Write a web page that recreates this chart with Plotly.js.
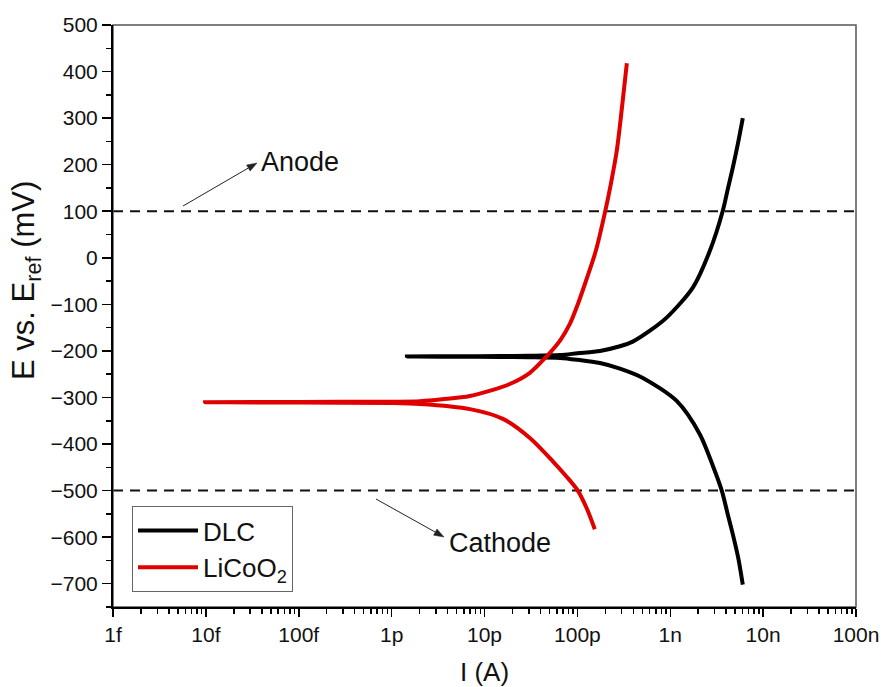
<!DOCTYPE html>
<html>
<head>
<meta charset="utf-8">
<script src="https://cdn.plot.ly/plotly-3.0.1.min.js"></script>
<style>
  html, body { margin: 0; padding: 0; background: #ffffff; }
  #chart { width: 881px; height: 687px; }
</style>
</head>
<body>
<div id="chart"></div>
<script>
// ---- Data ----
// DLC: cathodic branch (from -700 mV up), dip to E_corr, then anodic branch
const dlcCurrent = [6.04e-9, 5.4e-9, 4.72e-9, 4.15e-9, 3.6e-9, 2.88e-9, 2.08e-9, 1.18e-9, 5.07e-10, 2.87e-10, 1.75e-10, 1.0e-10, 6.5e-11, 3.0e-11, 1.47e-11, 5.0e-12, 1.46e-12,
                    5.0e-12, 1.5e-11, 3.0e-11, 6.5e-11, 1.0e-10, 1.75e-10, 2.87e-10, 3.95e-10, 6.2e-10, 9.2e-10, 1.75e-9, 2.67e-9, 3.68e-9, 4.17e-9, 4.72e-9, 5.35e-9, 6.04e-9];
const dlcPotential = [-702, -645, -594, -550, -501, -447, -379, -308, -258, -238, -226, -219, -215, -213.5, -213, -212.5, -212,
                      -211.5, -211, -210.5, -209, -205, -200, -190, -180, -155, -128, -64, 15, 101, 148, 194, 245, 300];

// LiCoO2: cathodic branch (from -583 mV up), dip to E_corr, then anodic branch
const licoCurrent = [1.54e-10, 1.26e-10, 1.01e-10, 7.5e-11, 5.44e-11, 3.08e-11, 1.58e-11, 6.97e-12, 2.02e-12, 1.0e-12, 1.0e-13, 9.8e-15,
                     1.0e-13, 1.0e-12, 2.02e-12, 3.5e-12, 6.97e-12, 1.87e-11, 3.08e-11, 4.7e-11, 5.44e-11, 6.64e-11, 8.3e-11, 1.01e-10, 1.26e-10, 1.58e-10, 1.98e-10, 2.3e-10, 2.66e-10, 3.01e-10, 3.41e-10];
const licoPotential = [-583, -538, -500, -468, -437, -387, -346, -325, -314, -312, -311, -310,
                       -309.5, -309, -308, -304, -297, -271, -247, -211, -197, -175, -142, -100, -45, 15, 97, 160, 231, 320, 418];

const seriesNames = ['DLC', 'LiCoO<sub>2</sub>'];
const seriesColors = ['#000000', '#e00000'];

// Reference potential levels (dashed lines) and labels
const refLevels = [100, -500];
const refLabels = ['Anode', 'Cathode'];

// Axis ticks
const xTickVals = [1e-15, 1e-14, 1e-13, 1e-12, 1e-11, 1e-10, 1e-9, 1e-8, 1e-7];
const xTickText = ['1f', '10f', '100f', '1p', '10p', '100p', '1n', '10n', '100n'];
const yTickVals = [-700, -600, -500, -400, -300, -200, -100, 0, 100, 200, 300, 400, 500];

// minor ticks on the log axis: 2..9 of each decade
const xMinorVals = [];
for (let e = -15; e < -7; e++) {
  for (let m = 2; m <= 9; m++) xMinorVals.push(m * Math.pow(10, e));
}

const FONT = 'Liberation Sans, Arial, sans-serif';

// plot-area geometry (pixels) used only to place annotation arrows
const M = { l: 113, r: 25, t: 25, b: 80 };
const PW = 881 - M.l - M.r, PH = 687 - M.t - M.b;
const px2paper = (px, py) => [(px - M.l) / PW, (687 - M.b - py) / PH];

function arrowShapes(tail, head) {
  const dx = head[0] - tail[0], dy = head[1] - tail[1];
  const L = Math.hypot(dx, dy), ux = dx / L, uy = dy / L;
  const nx = -uy, ny = ux, hl = 10, hw = 3.5;
  const bx = head[0] - hl * ux, by = head[1] - hl * uy;
  const t = px2paper(tail[0], tail[1]);
  const b = px2paper(bx, by);
  const h = px2paper(head[0], head[1]);
  const p1 = px2paper(bx + hw * nx, by + hw * ny);
  const p2 = px2paper(bx - hw * nx, by - hw * ny);
  return [
    { type: 'line', xref: 'paper', yref: 'paper', x0: t[0], y0: t[1], x1: b[0], y1: b[1],
      line: { color: '#222', width: 1 } },
    { type: 'path', xref: 'paper', yref: 'paper',
      path: `M ${h[0]} ${h[1]} L ${p1[0]} ${p1[1]} L ${p2[0]} ${p2[1]} Z`,
      fillcolor: '#222', line: { color: '#222', width: 0.5 } }
  ];
}

const traces = [
  {
    x: dlcCurrent, y: dlcPotential, type: 'scatter', mode: 'lines',
    name: seriesNames[0],
    line: { color: seriesColors[0], width: 4, shape: 'spline', smoothing: 0.8 }
  },
  {
    x: licoCurrent, y: licoPotential, type: 'scatter', mode: 'lines',
    name: seriesNames[1],
    line: { color: seriesColors[1], width: 4, shape: 'spline', smoothing: 0.8 }
  }
];

const shapes = refLevels.map(v => ({
  type: 'line', xref: 'paper', x0: 0, x1: 1, yref: 'y', y0: v, y1: v,
  line: { color: '#111111', width: 2, dash: '10px,7px' }, layer: 'below'
}));
// frame (top / right)
shapes.push({
  type: 'rect', xref: 'paper', yref: 'paper', x0: 0, x1: 1, y0: 0, y1: 1,
  line: { color: '#555555', width: 1.5 }, layer: 'below'
});
// annotation arrows
shapes.push(...arrowShapes([183, 206], [257, 163]));
shapes.push(...arrowShapes([376, 499], [444, 537]));

const anodePos = px2paper(259, 162);
const cathodePos = px2paper(447, 543);
const yTitlePos = px2paper(26, 281);
const legendPos = px2paper(132, 506);

const annotations = [
  { xref: 'paper', yref: 'paper', x: anodePos[0], y: anodePos[1], xanchor: 'left', yanchor: 'middle',
    text: refLabels[0], showarrow: false, font: { family: FONT, size: 27, color: '#111' } },
  { xref: 'paper', yref: 'paper', x: cathodePos[0], y: cathodePos[1], xanchor: 'left', yanchor: 'middle',
    text: refLabels[1], showarrow: false, font: { family: FONT, size: 27, color: '#111' } },
  { xref: 'paper', yref: 'paper', x: yTitlePos[0], y: yTitlePos[1], xanchor: 'center', yanchor: 'middle',
    textangle: -90, text: 'E vs. E<sub>ref</sub> (mV)', showarrow: false,
    font: { family: FONT, size: 31, color: '#111' } }
];

const layout = {
  width: 881, height: 687,
  margin: M,
  paper_bgcolor: '#ffffff', plot_bgcolor: '#ffffff',
  font: { family: FONT, color: '#111111', size: 21 },
  showlegend: true,
  legend: {
    x: legendPos[0], y: legendPos[1], xanchor: 'left', yanchor: 'top',
    bgcolor: '#ffffff', bordercolor: '#666666', borderwidth: 1,
    font: { family: FONT, size: 26, color: '#111' },
    itemwidth: 60, tracegroupgap: 0
  },
  xaxis: {
    type: 'log', range: [-15, -7],
    tickmode: 'array', tickvals: xTickVals, ticktext: xTickText,
    ticks: 'outside', ticklen: 8, tickwidth: 1.5, tickcolor: '#000',
    showline: true, linecolor: '#000', linewidth: 2,
    showgrid: false, zeroline: false,
    tickfont: { family: FONT, size: 21, color: '#111' },
    minor: { tickmode: 'array', tickvals: xMinorVals, ticks: 'outside', ticklen: 5, tickwidth: 1.5, tickcolor: '#000', showgrid: false },
    title: { text: 'I (A)', font: { family: FONT, size: 26, color: '#111' }, standoff: 19 }
  },
  yaxis: {
    range: [-750, 500],
    tickmode: 'array', tickvals: yTickVals,
    ticks: 'outside', ticklen: 9, tickwidth: 1.5, tickcolor: '#000',
    showline: true, linecolor: '#000', linewidth: 2,
    showgrid: false, zeroline: false,
    tickfont: { family: FONT, size: 21, color: '#111' },
    minor: { dtick: 50, ticks: 'outside', ticklen: 5, tickwidth: 1.5, tickcolor: '#000', showgrid: false }
  },
  shapes: shapes,
  annotations: annotations
};

Plotly.newPlot('chart', traces, layout, { displayModeBar: false, staticPlot: true });
</script>
</body>
</html>
